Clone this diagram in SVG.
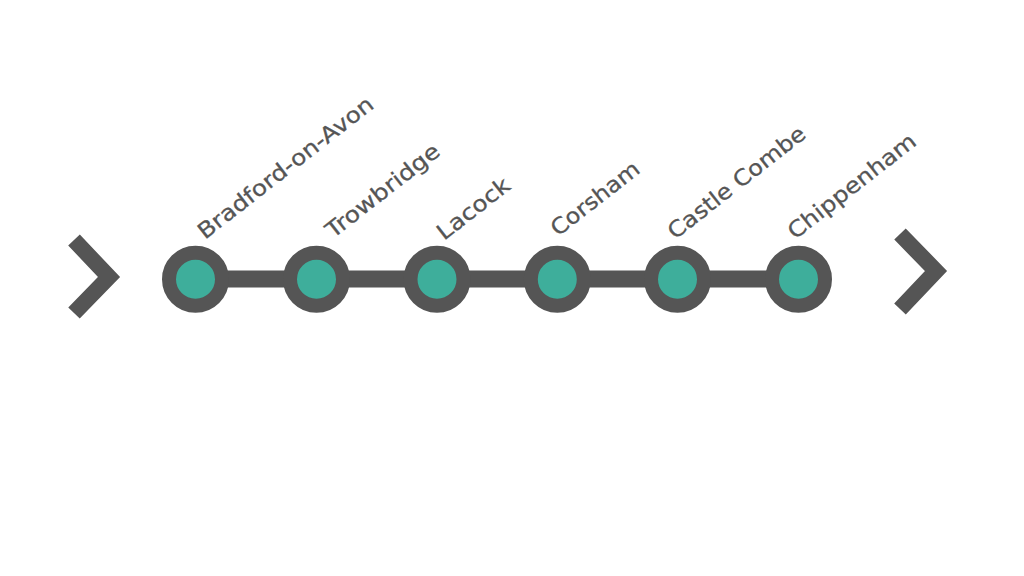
<svg xmlns="http://www.w3.org/2000/svg" width="1024" height="576" viewBox="0 0 1024 576">
<style>
.lbl{font-family:"DejaVu Sans","Liberation Sans",sans-serif;font-size:22px;fill:#555555;stroke:#555555;stroke-width:0.3}
.ring{fill:#3eae9b;stroke:#555555;stroke-width:14}
.chev{fill:none;stroke:#555555;stroke-width:16;stroke-linejoin:miter}
</style>
<rect width="1024" height="576" fill="#ffffff"/>
<g id="connectors">
<line x1="195.5" y1="279" x2="798.5" y2="279" stroke="#555555" stroke-width="17"/>
<polyline id="chev-left" class="chev" points="74,240 109,277 74,313"/>
<polyline id="chev-right" class="chev" points="900,234 936,271 900,309"/>
</g>
<g id="bradford"><circle class="ring" cx="195.5" cy="279.3" r="26.5"/><text class="lbl" transform="translate(205,240) rotate(-38)" textLength="216" lengthAdjust="spacingAndGlyphs">Bradford-on-Avon</text></g>
<g id="trowbridge"><circle class="ring" cx="316.5" cy="279.3" r="26.5"/><text class="lbl" transform="translate(333,239) rotate(-38)" textLength="138" lengthAdjust="spacingAndGlyphs">Trowbridge</text></g>
<g id="lacock"><circle class="ring" cx="437" cy="279.3" r="26.5"/><text class="lbl" transform="translate(444,241) rotate(-38)" textLength="86" lengthAdjust="spacingAndGlyphs">Lacock</text></g>
<g id="corsham"><circle class="ring" cx="557.3" cy="279.3" r="26.5"/><text class="lbl" transform="translate(558,237) rotate(-38)" textLength="106" lengthAdjust="spacingAndGlyphs">Corsham</text></g>
<g id="castle-combe"><circle class="ring" cx="677.5" cy="279.3" r="26.5"/><text class="lbl" transform="translate(675,240) rotate(-38)" textLength="168" lengthAdjust="spacingAndGlyphs">Castle Combe</text></g>
<g id="chippenham"><circle class="ring" cx="798.5" cy="279.3" r="26.5"/><text class="lbl" transform="translate(795,240) rotate(-38)" textLength="156" lengthAdjust="spacingAndGlyphs">Chippenham</text></g>
</svg>
